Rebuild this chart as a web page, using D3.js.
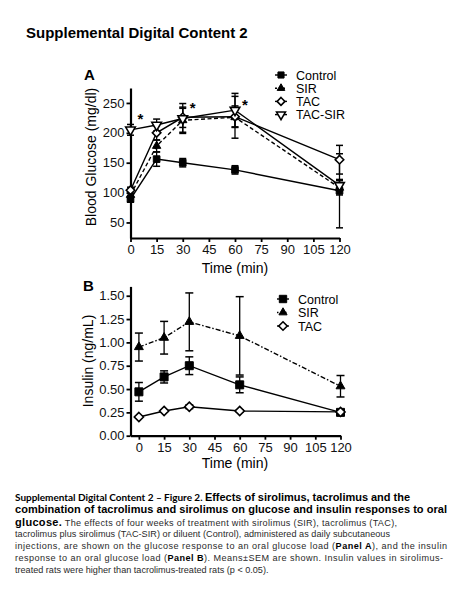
<!DOCTYPE html>
<html><head><meta charset="utf-8">
<script src="https://cdn.jsdelivr.net/npm/d3@7"></script>
<style>body{margin:0;background:#fff}svg{display:block}</style>
</head><body>
<script>
// ---------- data ----------
const times = [0, 15, 30, 60, 120];
const xTicks = [0, 15, 30, 45, 60, 75, 90, 105, 120];
const glucoseTicks = [50, 100, 150, 200, 250];
const insulinTicks = [0, 0.25, 0.5, 0.75, 1, 1.25, 1.5];

const glucoseControl    = [89, 156, 150, 138, 103];
const glucoseControlSEM = [5, 12, 7, 7, 62];
const glucoseSIR        = [96, 178, 221, 226, 108];
const glucoseSIRSEM     = [6, 10, 20, 35, 12];
const glucoseTAC        = [104, 200, 226, 227, 155];
const glucoseTACSEM     = [5, 12, 17, 18, 24];
const glucoseTACSIR     = [205, 213, 224, 238, 112];
const glucoseTACSIRSEM  = [9, 10, 25, 28, 10];

const insulinControl    = [0.47, 0.63, 0.75, 0.545, 0.25];
const insulinControlSEM = [0.10, 0.065, 0.095, 0.085, 0.02];
const insulinSIR        = [0.95, 1.05, 1.22, 1.07, 0.53];
const insulinSIRSEM     = [0.15, 0.175, 0.31, 0.42, 0.115];
const insulinTAC        = [0.20, 0.265, 0.31, 0.265, 0.255];
const insulinTACSEM     = [0.01, 0.012, 0.02, 0.012, 0.012];

const glucoseAsterisks = [{t: 0, v: 230}, {t: 30, v: 248}, {t: 60, v: 253}];

// ---------- drawing ----------
const FONT = "'Liberation Sans', Arial, Helvetica, sans-serif";
const svg = d3.select("body").append("svg").attr("width", 450).attr("height", 600)
  .style("font-family", FONT);

svg.append("text").attr("x", 26).attr("y", 38).attr("font-size", 15).attr("font-weight", "bold")
  .text("Supplemental Digital Content 2");

function symbolPath(kind, size) {
  if (kind === "square") return d3.symbol(d3.symbolSquare, size)();
  if (kind === "tri" || kind === "down") return d3.symbol(d3.symbolTriangle, size)();
  if (kind === "diamond") {
    const r = Math.sqrt(size / 2);
    return `M0,${-r}L${r},0L0,${r}L${-r},0Z`;
  }
}
function drawMarker(g, kind, x, y, size, filled) {
  g.append("path").attr("d", symbolPath(kind, size))
    .attr("transform", `translate(${x},${y})` + (kind === "down" ? " rotate(180)" : ""))
    .attr("fill", filled ? "#000" : "#fff").attr("stroke", "#000").attr("stroke-width", filled ? 1 : 1.6);
}

function panel(cfg) {
  const g = svg.append("g");
  const x = d3.scaleLinear().domain(cfg.xDomain).range(cfg.xRange);
  const y = d3.scaleLinear().domain(cfg.yDomain).range(cfg.yRange);

  const ya = g.append("g").attr("transform", `translate(${cfg.xRange[0]},0)`)
    .call(d3.axisLeft(y).tickValues(cfg.yTicks).tickSize(4).tickPadding(2).tickSizeOuter(0).tickFormat(cfg.yFmt));
  const xa = g.append("g").attr("transform", `translate(0,${cfg.yRange[0]})`)
    .call(d3.axisBottom(x).tickValues(xTicks).tickSize(4).tickPadding(3).tickSizeOuter(0));
  [ya, xa].forEach(a => {
    a.select(".domain").attr("stroke-width", 2.2).attr("stroke", "#000");
    a.selectAll(".tick line").attr("stroke-width", 1.8).attr("stroke", "#000");
    a.selectAll(".tick text").attr("font-size", 13).attr("fill", "#111").style("font-family", FONT);
  });

  g.append("text").attr("x", 235).attr("y", cfg.xTitleY).attr("text-anchor", "middle")
    .attr("font-size", 14).text("Time (min)");
  g.append("text").attr("transform", `translate(${cfg.yTitleX},${cfg.yTitleY}) rotate(-90)`)
    .attr("text-anchor", "middle").attr("font-size", 14).text(cfg.yTitle);
  g.append("text").attr("x", cfg.labelX).attr("y", cfg.labelY).attr("font-size", 15)
    .attr("font-weight", "bold").text(cfg.label);

  const line = d3.line().x((d, i) => x(times[i])).y(d => y(d));
  cfg.series.forEach(s => {
    g.append("path").datum(s.values).attr("d", line).attr("fill", "none")
      .attr("stroke", "#000").attr("stroke-width", 1.4).attr("stroke-dasharray", s.dash || null);
  });
  cfg.series.forEach(s => {
    s.values.forEach((v, i) => {
      const cx = x(times[i]), lo = y(v - s.sem[i]), hi = y(v + s.sem[i]);
      g.append("line").attr("x1", cx).attr("x2", cx).attr("y1", lo).attr("y2", hi)
        .attr("stroke", "#000").attr("stroke-width", 1.3);
      [lo, hi].forEach(yy => g.append("line").attr("x1", cx - cfg.cap).attr("x2", cx + cfg.cap)
        .attr("y1", yy).attr("y2", yy).attr("stroke", "#000").attr("stroke-width", 1.5));
    });
  });
  cfg.series.forEach(s => {
    s.values.forEach((v, i) => drawMarker(g, s.marker, x(times[i]), y(v), s.size, s.filled));
  });

  // legend
  cfg.series.forEach((s, i) => {
    const ly = cfg.legY + i * cfg.legDy;
    g.append("line").attr("x1", cfg.legX - 6).attr("x2", cfg.legX + 6).attr("y1", ly).attr("y2", ly)
      .attr("stroke", "#000").attr("stroke-width", 1.4).attr("stroke-dasharray", s.legDash || null);
    drawMarker(g, s.marker, cfg.legX, ly, s.size * 0.85, s.filled);
    g.append("text").attr("x", cfg.legX + 15).attr("y", ly + 4.5).attr("font-size", 12.5).text(s.name);
  });
  return {g, x, y};
}

const A = panel({
  xDomain: [0, 120], xRange: [130.5, 339.5],
  yDomain: [24, 275], yRange: [238, 88],
  yTicks: glucoseTicks, yFmt: d3.format("d"),
  xTitleY: 273, yTitleX: 96, yTitleY: 157, yTitle: "Blood Glucose (mg/dl)",
  label: "A", labelX: 84, labelY: 80, cap: 3.5,
  legX: 281, legY: 75, legDy: 13.2,
  series: [
    {name: "Control", values: glucoseControl, sem: glucoseControlSEM, marker: "square", size: 44, filled: true},
    {name: "SIR", values: glucoseSIR, sem: glucoseSIRSEM, marker: "tri", size: 30, filled: true, dash: "4,2.5", legDash: "2,2"},
    {name: "TAC", values: glucoseTAC, sem: glucoseTACSEM, marker: "diamond", size: 36, filled: false},
    {name: "TAC-SIR", values: glucoseTACSIR, sem: glucoseTACSIRSEM, marker: "down", size: 40, filled: false}
  ]
});
glucoseAsterisks.forEach(a => {
  A.g.append("text").attr("x", A.x(a.t) + 7).attr("y", A.y(a.v) + 9).attr("font-size", 15)
    .attr("font-weight", "bold").text("*");
});

panel({
  xDomain: [-5, 120], xRange: [130.5, 340.5],
  yDomain: [0, 1.6], yRange: [435.7, 286.4],
  yTicks: insulinTicks, yFmt: d3.format(".2f"),
  xTitleY: 468, yTitleX: 93, yTitleY: 361, yTitle: "Insulin (ng/mL)",
  label: "B", labelX: 83, labelY: 291, cap: 4,
  legX: 283, legY: 299, legDy: 13.5,
  series: [
    {name: "Control", values: insulinControl, sem: insulinControlSEM, marker: "square", size: 64, filled: true},
    {name: "SIR", values: insulinSIR, sem: insulinSIRSEM, marker: "tri", size: 34, filled: true, dash: "5,2,1.5,2", legDash: "1.5,2.5"},
    {name: "TAC", values: insulinTAC, sem: insulinTACSEM, marker: "diamond", size: 42, filled: false}
  ]
});

// ---------- caption ----------
const cap = svg.append("g");
const BOLD = 11, REG = 9.1;
function capLine(y, parts, len) {
  const t = cap.append("text").attr("x", 15).attr("y", y);
  parts.forEach(p => {
    t.append("tspan").text(p[0])
      .attr("font-weight", p[1] === "r" ? "normal" : "bold")
      .attr("font-size", p[1] === "c" ? 10 : (p[1] === "b" ? BOLD : REG))
      .attr("fill", p[1] === "r" ? "#2a2a2a" : "#000")
      .style("font-family", p[1] === "c" ? "Lato, 'Open Sans', sans-serif" : FONT);
  });
  if (len) t.attr("textLength", len).attr("lengthAdjust", "spacing");
}
capLine(500.5, [["Supplemental Digital Content 2 \u2013 Figure 2. ", "c"], ["Effects of sirolimus, tacrolimus and the", "b"]], 395);
capLine(513, [["combination of tacrolimus and sirolimus on glucose and insulin responses to oral", "b"]], 432);
capLine(525.5, [["glucose.", "b"], [" The effects of four weeks of treatment with sirolimus (SIR), tacrolimus (TAC),", "r"]], 382);
capLine(537, [["tacrolimus plus sirolimus (TAC-SIR) or diluent (Control), administered as daily subcutaneous", "r"]], 375);
capLine(549, [["injections, are shown on the glucose response to an oral glucose load (", "r"], ["Panel A", "rb"], ["), and the insulin", "r"]], 432);
capLine(561, [["response to an oral glucose load (", "r"], ["Panel B", "rb"], ["). Means\u00b1SEM are shown. Insulin values in sirolimus-", "r"]], 428);
capLine(573, [["treated rats were higher than tacrolimus-treated rats (p < 0.05).", "r"]], null);
</script>
</body></html>
